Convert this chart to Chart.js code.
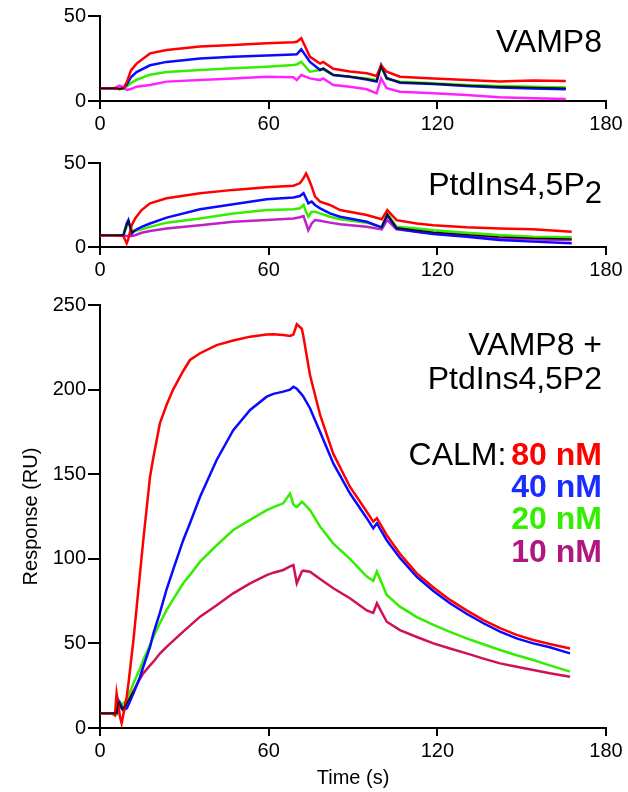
<!DOCTYPE html>
<html>
<head>
<meta charset="utf-8">
<script src="https://cdn.jsdelivr.net/npm/chart.js@4"></script>
<style>
  body { margin: 0; background: #fff; width: 628px; height: 792px; position: relative; overflow: hidden;
         font-family: "Liberation Sans", Arial, sans-serif; }
  canvas { position: absolute; left: 0; }
  .lbl { position: absolute; right: 26px; font-size: 32px; line-height: 32px; white-space: nowrap; color: #000; }
  .lbl b { font-weight: bold; }
  .lbl sub { font-size: 31px; vertical-align: -8px; line-height: 0; }
</style>
</head>
<body>
<canvas id="vampChart" width="628" height="145" style="top:0px"></canvas>
<canvas id="ptdChart" width="628" height="145" style="top:145px"></canvas>
<canvas id="bothChart" width="628" height="502" style="top:290px"></canvas>

<div class="lbl" style="top:25px">VAMP8</div>
<div class="lbl" style="top:168px">PtdIns4,5P<sub>2</sub></div>
<div class="lbl" style="top:328px">VAMP8 +</div>
<div class="lbl" style="top:362px">PtdIns4,5P2</div>
<div class="lbl" style="top:438px">CALM:<b style="color:#ff0000;margin-left:5px">80 nM</b></div>
<div class="lbl" style="top:470px"><b style="color:#1a2cff">40 nM</b></div>
<div class="lbl" style="top:502px"><b style="color:#33ee00">20 nM</b></div>
<div class="lbl" style="top:535px"><b style="color:#b0167f">10 nM</b></div>

<script>
// --- VAMP8 panel (time in s, response in RU)
const vampT = [0, 5, 7, 8.3, 9.5, 11, 13, 17.8, 23.7, 35.6, 47.4, 59.3, 68.8, 70, 71.6, 74.7, 78.3, 79.4, 83, 88.9, 94.9, 98.4, 100, 102, 106.7, 118.6, 130.4, 142, 154, 165.7];
const vampRed = [7.5, 7.5, 7, 7.5, 11, 18, 22, 28, 30, 32, 33, 34, 34.5, 34.8, 36.9, 26, 22, 23, 19, 17.3, 16.3, 14.7, 21, 17.2, 14.3, 13.3, 12.3, 11.4, 12, 11.8];
const vampBlue = [7.5, 7.5, 7, 7.5, 9.5, 14, 17, 21, 23, 25, 26, 26.7, 27.4, 27.5, 30.4, 23, 18.2, 19.2, 15.3, 14.3, 12.7, 11.4, 21, 13.5, 10.8, 10, 8.8, 8, 7.4, 6.9];
const vampGreen = [7.5, 7.5, 7, 7.5, 8.5, 10.5, 12.5, 15.5, 17, 18.2, 19.2, 20.2, 21.2, 21.5, 23, 17.2, 18.2, 18.5, 15.3, 14.3, 13.3, 12.3, 20, 13, 11.3, 10.4, 9.4, 8.8, 8.4, 8];
const vampMagenta = [7.5, 7.5, 9, 8, 6.5, 7, 8.4, 9.4, 11.4, 12.3, 13.3, 14.3, 14, 12.3, 15.3, 13.3, 12.3, 13.3, 9.4, 8.4, 6.9, 4.5, 13.3, 7.5, 5.5, 4.5, 3.5, 2.2, 1.6, 1.2];
const vampBlack = [7.5, 7.5, 7.2, 7.5, null, null, null, null, null, null, null, null, null, null, null, null, 18.2, 19, 15.3, 14.3, 13, 11.8, 20.5, 13.2, 11, 10.2, 9.1, 8.4, 7.9, 7.5];

// --- PtdIns4,5P2 panel
const ptdT = [0, 5, 8.3, 9.5, 10.1, 11.3, 12.5, 14.8, 17.8, 23.7, 35.6, 47.4, 59.3, 68.8, 71.1, 72.4, 73.3, 74.1, 75.3, 76.5, 78.3, 81.8, 85.4, 94.9, 100.2, 102.2, 105.5, 112.7, 118.6, 130.4, 142, 154, 167.8];
const ptdRed = [7, 7, 6.5, 2.2, 5, 13, 17, 22, 26, 29, 32, 34, 35.5, 36.5, 37.9, 41, 43.8, 41, 36, 30, 27, 25, 22, 19, 16.5, 22, 16, 14, 13, 11.7, 11, 10.5, 9.1];
const ptdBlue = [7, 7, 7, 14, 16, 8, 10, 12, 14, 17.5, 22.5, 25.5, 28.4, 29.5, 30.3, 32, 29, 26, 27, 25, 23, 20, 18, 15, 11.7, 19, 11, 9.1, 7.7, 6.1, 4.2, 3.2, 2.2];
const ptdGreen = [7, 7, 7, 12, 15, 10, 9.5, 10.5, 12, 14.5, 17, 20, 22, 22.5, 23, 25, 21, 18, 21, 21, 20, 18, 16.5, 14.5, 11.7, 20, 12, 11, 10, 8.5, 7.1, 6.1, 5.8];
const ptdMagenta = [7, 7, 7, 6.5, 6.5, 6.5, 7, 8.5, 9.5, 11, 13, 15, 16, 17, 17.7, 18.4, 14, 10, 14, 16, 15.6, 14.5, 13.5, 12, 10.5, 16, 10.5, 9, 8, 6.5, 5.2, 4.5, 4.2];
const ptdBlack = [7, 7, 7, 13, 15.5, 9, 9.5, null, null, null, null, null, null, null, null, null, null, null, null, null, null, null, null, null, 11.7, 19.5, 11.5, 10, 8.8, 7.3, 6, 5.2, 4.8];

// --- VAMP8 + PtdIns4,5P2 panel, CALM 80/40/20/10 nM
const bothT = [0, 4.2, 5.3, 5.9, 6.5, 7.1, 7.7, 8.3, 9.5, 10.1, 11.9, 14.2, 15.4, 17.8, 19, 21.3, 23.7, 26, 29.6, 32, 35.6, 41.5, 47.4, 53.4, 59.3, 61.7, 65.2, 67.6, 68.8, 70, 71.8, 72.3, 74.7, 78.3, 83, 88.9, 94.9, 97.2, 98.5, 102, 106.7, 112.7, 118.6, 124.5, 130.4, 136.4, 142.3, 148.2, 154.1, 160, 167.2];
const calm80 = [8.7, 8.7, 7.5, 20.5, 14, 6.7, 2.8, 8, 18.5, 26, 52, 91, 111, 148.5, 160, 180, 191, 200, 211, 217.5, 221.5, 226.3, 229, 231.3, 232.5, 232.7, 232.3, 231.7, 232.5, 238.6, 236, 232, 208.6, 185, 162, 142.6, 127.8, 122, 124, 114, 103, 91.4, 83, 75.7, 69.5, 63.8, 59, 55, 52, 49.6, 47];
const calm40 = [8.7, 8.7, 8.7, 8.7, 16.5, 14.6, 12.6, 10.5, 11.6, 13.6, 20.5, 30, 36.2, 48, 56, 68, 82, 93.4, 111, 121, 136.7, 158.4, 176, 188, 195.8, 197.5, 198.8, 200, 201.7, 200.5, 197, 196, 189, 175, 156.4, 138.7, 124, 118, 121, 111, 100.5, 89.4, 81, 73.7, 67.5, 61.9, 57, 53, 50, 47.7, 44.1];
const calm20 = [8.7, 8.7, 7.7, 8, 15.5, 15.5, 13.6, 14.6, 16.5, 19, 26.4, 35, 40.2, 49, 54, 62, 69.7, 76, 85.5, 90.5, 98.3, 108, 117, 123, 128.8, 130.5, 132.8, 138.5, 132, 130.5, 133.7, 133, 128.8, 119, 109, 100, 89.5, 87, 92.4, 78.6, 71.7, 65.5, 60.9, 56.8, 53, 49.5, 46.1, 43, 40.2, 37, 33.3];
const calm10 = [8.7, 8.7, 8, 8.5, 12, 13, 12, 11.6, 15, 16.5, 22, 29, 32.3, 37, 39.2, 44, 48, 51.5, 57, 60.5, 65.8, 72.5, 79.6, 85.5, 90.4, 91.8, 93.4, 95.5, 96.3, 85.5, 92.5, 93, 92.4, 88, 82.6, 76.7, 69.5, 68, 73.7, 62.8, 57.9, 53.8, 50, 47, 44.1, 41, 38.2, 36.2, 34.3, 32.3, 30.3];
const calmBlack = [8.7, 8.7, 8.7, 9, 15, 14, 11, 11.6, 14, 16.5, 21.5];

const xTicks = [0, 60, 120, 180];
const fontFamily = '"Liberation Sans", Arial, sans-serif';

function buildChart(canvasId, times, series, yMax, padTop, xHeight, yTitle, xTitle) {
    const datasets = series.map(s => ({
        data: s.values.map((v, i) => ({ x: times[i], y: v })),
        borderColor: s.color,
        borderWidth: s.width,
        pointRadius: 0,
        tension: 0,
        spanGaps: false
    }));

    const ctx = document.getElementById(canvasId).getContext('2d');
    return new Chart(ctx, {
        type: 'line',
        data: { datasets: datasets },
        options: {
            responsive: false,
            animation: false,
            layout: { padding: { top: padTop, right: 22, left: 0, bottom: 0 } },
            plugins: { legend: { display: false }, tooltip: { enabled: false } },
            scales: {
                x: {
                    type: 'linear',
                    min: xTicks[0],
                    max: xTicks[xTicks.length - 1],
                    afterFit: s => { s.height = xHeight; },
                    afterBuildTicks: s => { s.ticks = xTicks.map(v => ({ value: v })); },
                    border: { color: '#000', width: 2 },
                    grid: { drawOnChartArea: false, color: '#000', lineWidth: 2, tickLength: 8 },
                    ticks: { color: '#000', font: { family: fontFamily, size: 20 }, padding: 3, maxRotation: 0 },
                    title: {
                        display: !!xTitle,
                        text: xTitle,
                        color: '#000',
                        font: { family: fontFamily, size: 20 },
                        padding: { top: 0, bottom: 2 }
                    }
                },
                y: {
                    min: 0,
                    max: yMax,
                    afterFit: s => { s.width = 100; },
                    border: { color: '#000', width: 2 },
                    grid: { drawOnChartArea: false, color: '#000', lineWidth: 2, tickLength: 12 },
                    ticks: { stepSize: 50, color: '#000', font: { family: fontFamily, size: 20 }, padding: 2 },
                    title: {
                        display: !!yTitle,
                        text: yTitle,
                        color: '#000',
                        font: { family: fontFamily, size: 20 },
                        padding: { top: 19, bottom: 0 }
                    }
                }
            }
        }
    });
}

buildChart('vampChart', vampT, [
    { values: vampBlack, color: '#111111', width: 1.5 },
    { values: vampRed, color: '#ff0000', width: 2.5 },
    { values: vampBlue, color: '#0a0aff', width: 2.5 },
    { values: vampGreen, color: '#33ee00', width: 2.5 },
    { values: vampMagenta, color: '#ff22ff', width: 2.5 }
], 50, 16, 44, '', '');

buildChart('ptdChart', ptdT, [
    { values: ptdBlack, color: '#111111', width: 1.5 },
    { values: ptdRed, color: '#ff0000', width: 2.5 },
    { values: ptdBlue, color: '#0a0aff', width: 2.5 },
    { values: ptdGreen, color: '#33ee00', width: 2.5 },
    { values: ptdMagenta, color: '#c020c8', width: 2.5 }
], 50, 18, 43, '', '');

buildChart('bothChart', bothT, [
    { values: calmBlack, color: '#111111', width: 1.5 },
    { values: calm80, color: '#ff0000', width: 2.5 },
    { values: calm40, color: '#0a0aff', width: 2.5 },
    { values: calm20, color: '#33ee00', width: 2.5 },
    { values: calm10, color: '#d0105a', width: 2.5 }
], 250, 15, 64, 'Response (RU)', 'Time (s)');
</script>
</body>
</html>
